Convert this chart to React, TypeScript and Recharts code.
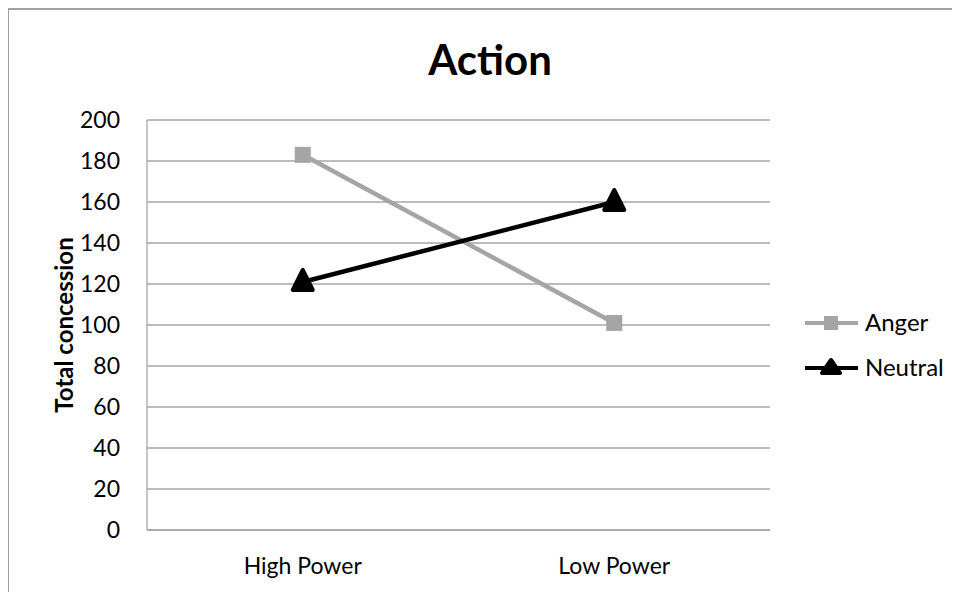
import React from 'react';
import { LineChart, Line, XAxis, YAxis, CartesianGrid, Legend } from 'recharts';

const categories = ['High Power', 'Low Power'];
const anger = [183, 101];
const neutral = [121, 160];
const yTicks = [0, 20, 40, 60, 80, 100, 120, 140, 160, 180, 200];

const data = categories.map((name, i) => ({ name, Anger: anger[i], Neutral: neutral[i] }));

const FONT = 'Lato, "Open Sans", sans-serif';
const GREY = '#a5a5a5';

const SquareDot = (props: any) => {
  const { cx, cy } = props;
  return <rect x={cx - 8} y={cy - 8} width={16} height={16} fill={GREY} />;
};

const TriangleDot = (props: any) => {
  const { cx, cy } = props;
  return (
    <path
      d={`M${cx - 10},${cy + 8} L${cx + 10},${cy + 8} L${cx},${cy - 12} Z`}
      fill="#000"
      stroke="#000"
      strokeWidth={4}
      strokeLinejoin="round"
    />
  );
};

const LegendBox = () => (
  <svg width={150} height={80} style={{ overflow: 'visible' }}>
    <line x1={0} y1={18} x2={53} y2={18} stroke={GREY} strokeWidth={4} />
    <rect x={19} y={11} width={14} height={14} fill={GREY} />
    <text x={60} y={18} dy="0.35em" fontFamily={FONT} fontSize={24} fill="#000">
      Anger
    </text>
    <line x1={0} y1={63} x2={53} y2={63} stroke="#000" strokeWidth={4} />
    <path d="M17,68 L35,68 L26,55 Z" fill="#000" stroke="#000" strokeWidth={4} strokeLinejoin="round" />
    <text x={60} y={63} dy="0.35em" fontFamily={FONT} fontSize={24} fill="#000">
      Neutral
    </text>
  </svg>
);

const YLabel = (props: any) => {
  const { viewBox } = props;
  const cy = viewBox.y + viewBox.height / 2;
  const cx = 54;
  return (
    <text
      x={cx}
      y={cy}
      transform={`rotate(-90, ${cx}, ${cy})`}
      textAnchor="middle"
      dominantBaseline="central"
      fontFamily={FONT}
      fontWeight="bold"
      fontSize={24}
      fill="#000"
    >
      Total concession
    </text>
  );
};

export default function App() {
  return (
    <div
      style={{
        position: 'relative',
        width: 953,
        height: 590,
        marginLeft: -1,
        borderTop: '2px solid #a0a0a0',
        borderLeft: '2px solid #a0a0a0',
        boxSizing: 'border-box',
        background: '#fff',
      }}
    >
      <div
        style={{
          position: 'absolute',
          left: 0,
          width: 962,
          top: 24,
          textAlign: 'center',
          fontFamily: FONT,
          fontWeight: 'bold',
          fontSize: 42,
          lineHeight: '50px',
        }}
      >
        Action
      </div>
      <LineChart
        width={947}
        height={588}
        data={data}
        margin={{ top: 110, right: 186, bottom: 28, left: 0 }}
      >
        <CartesianGrid vertical={false} stroke="#a6a6a6" strokeWidth={1.3} />
        <XAxis
          dataKey="name"
          stroke="#a6a6a6"
          strokeWidth={1.3}
          tickLine={false}
          tickSize={0}
          tickMargin={28}
          height={40}
          tick={{ fill: '#000', fontFamily: FONT, fontSize: 23 }}
          padding={{ left: 0, right: 0 }}
          scale="band"
        />
        <YAxis
          domain={[0, 200]}
          ticks={yTicks}
          interval={0}
          width={138}
          stroke="#a6a6a6"
          strokeWidth={1.3}
          tickLine={false}
          tickSize={0}
          tickMargin={27}
          tick={{ fill: '#000', fontFamily: FONT, fontSize: 23 }}
          label={{ content: YLabel }}
        />
        <Legend
          verticalAlign="middle"
          align="center"
          wrapperStyle={{ left: 796, top: 295, width: 150, height: 80 }}
          content={LegendBox}
        />
        <Line
          dataKey="Anger"
          stroke={GREY}
          strokeWidth={4.5}
          dot={<SquareDot />}
          activeDot={false}
          isAnimationActive={false}
        />
        <Line
          dataKey="Neutral"
          stroke="#000"
          strokeWidth={4.5}
          dot={<TriangleDot />}
          activeDot={false}
          isAnimationActive={false}
        />
      </LineChart>
    </div>
  );
}
